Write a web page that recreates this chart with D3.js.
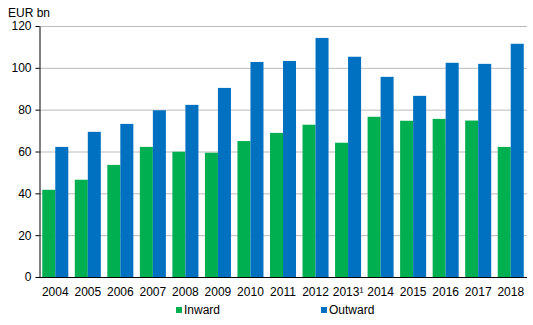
<!DOCTYPE html>
<html>
<head>
<meta charset="utf-8">
<script src="https://cdn.jsdelivr.net/npm/d3@7"></script>
<style>
  body { margin: 0; background: #fff; }
  svg { display: block; font-family: "Liberation Sans", Arial, sans-serif; }
</style>
</head>
<body>
<svg width="533" height="325"></svg>
<script>
const years = ["2004", "2005", "2006", "2007", "2008", "2009", "2010", "2011",
  "2012", "2013¹", "2014", "2015", "2016", "2017", "2018"];
const inward = [41.7, 46.5, 53.6, 62.2, 59.9, 59.4, 65.0, 68.9, 72.8, 64.2, 76.6, 74.7, 75.6, 74.8, 62.2];
const outward = [62.2, 69.4, 73.2, 79.7, 82.3, 90.4, 102.8, 103.3, 114.3, 105.3, 95.7, 86.6, 102.4, 101.9, 111.5];
const yTicks = [0, 20, 40, 60, 80, 100, 120];
const seriesNames = ["Inward", "Outward"];
const colors = ["#00b050", "#0070c0"];

const svg = d3.select("svg");
const plotLeft = 39, plotRight = 527, plotTop = 26, plotBottom = 277;

const x = d3.scaleBand().domain(years).range([plotLeft, plotRight]).paddingInner(0.2).paddingOuter(0.1);
const x1 = d3.scaleBand().domain(seriesNames).range([0, x.bandwidth()]);
const y = d3.scaleLinear().domain([0, 120]).range([plotBottom, plotTop]);

// gridlines
svg.append("g")
  .selectAll("line")
  .data(yTicks.slice(1))
  .join("line")
  .attr("x1", plotLeft).attr("x2", plotRight)
  .attr("y1", d => y(d) + 0.5).attr("y2", d => y(d) + 0.5)
  .attr("stroke", "#bbbbbb");

// bars
const table = years.map((yr, i) => ({ yr, vals: [inward[i], outward[i]] }));
svg.append("g")
  .selectAll("g")
  .data(table)
  .join("g")
  .attr("transform", d => `translate(${x(d.yr)},0)`)
  .selectAll("rect")
  .data(d => d.vals.map((v, j) => ({ v, j })))
  .join("rect")
  .attr("x", d => x1(seriesNames[d.j]))
  .attr("width", x1.bandwidth())
  .attr("y", d => y(d.v))
  .attr("height", d => y(0) - y(d.v))
  .attr("fill", d => colors[d.j]);

// y axis
const yAxis = svg.append("g")
  .attr("transform", `translate(${plotLeft + 0.5},0)`)
  .call(d3.axisLeft(y).tickValues(yTicks).tickSize(4).tickPadding(4).tickSizeOuter(0));
yAxis.select(".domain").attr("stroke", "#000");
yAxis.selectAll(".tick line").attr("stroke", "#000");
yAxis.selectAll("text").attr("font-size", 12).attr("fill", "#000")
  .attr("font-family", "Liberation Sans, Arial, sans-serif");

// x axis
const xAxis = svg.append("g")
  .attr("transform", `translate(0,${plotBottom + 0.5})`)
  .call(d3.axisBottom(x).tickSize(0).tickPadding(10));
xAxis.select(".domain").attr("stroke", "#000").attr("d", `M${plotLeft},0H${plotRight}`);
xAxis.selectAll("text").attr("font-size", 12).attr("fill", "#000")
  .attr("font-family", "Liberation Sans, Arial, sans-serif");

svg.append("text")
  .attr("x", 8).attr("y", 17)
  .attr("font-size", 12)
  .text("EUR bn");

// legend
const legendX = [176, 321];
const legend = svg.append("g")
  .selectAll("g")
  .data(seriesNames)
  .join("g")
  .attr("transform", (d, i) => `translate(${legendX[i]},307)`);
legend.append("rect").attr("width", 6).attr("height", 6).attr("fill", (d, i) => colors[i]);
legend.append("text").attr("x", 8).attr("y", 7).attr("font-size", 12).text(d => d);
</script>
</body>
</html>
